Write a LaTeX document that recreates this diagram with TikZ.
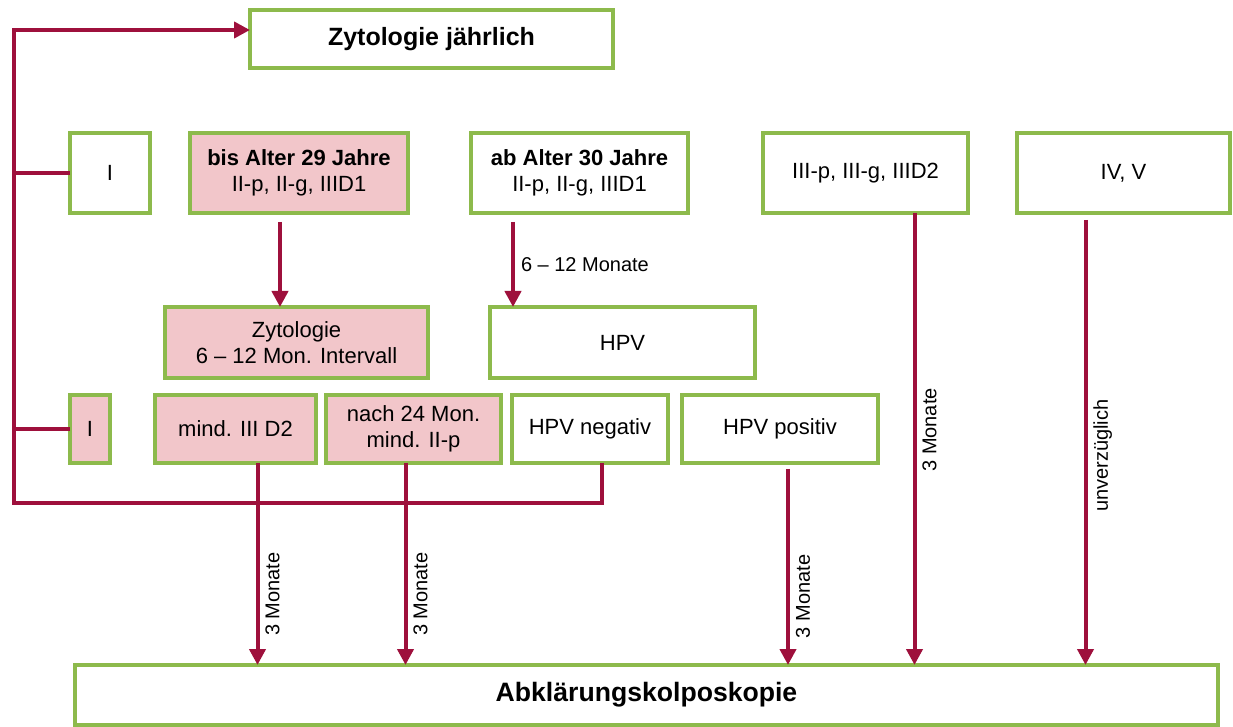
\documentclass[tikz,border=0pt]{standalone}
\usepackage{fontspec}
\setmainfont{Liberation Sans}
\usepackage{xcolor}
\usepackage{tikz}
\usetikzlibrary{positioning}
\usetikzlibrary{arrows.meta}
\definecolor{boxgreen}{RGB}{141,186,76}
\definecolor{boxpink}{RGB}{242,198,202}
\definecolor{linered}{RGB}{158,16,60}
\tikzset{flow/.style = {draw=linered, line width=2pt},
         link/.style = {flow, -{Triangle[length=8pt,width=8pt]}}}

\begin{document}
\begin{tikzpicture}[x=0.5pt,y=-0.5pt,
    main box/.style={rectangle,draw=boxgreen,line width=2.2pt,fill=white,inner sep=0pt,outer sep=0pt,align=center,font=\fontsize{11}{13}\selectfont},
    pink box/.style={main box,fill=boxpink},
    label/.style={font=\fontsize{10}{12}\selectfont,inner sep=3pt}]
            \useasboundingbox (0,0) rectangle (1233,727);

            \node[main box,minimum width=181.5pt,minimum height=29pt,font=\bfseries\fontsize{12.5}{14}\selectfont] (top) at (431.5,39) {\raisebox{-2pt}{Zytologie jährlich}};

            \node[main box,minimum width=40pt,minimum height=40pt] (i1) at (110,173) {I};
            \node[pink box,minimum width=109pt,minimum height=40pt] (bis) at (299,173) {\textbf{bis Alter 29 Jahre}\\II-p, II-g, IIID1};
            \node[main box,minimum width=108.5pt,minimum height=40pt] (ab) at (579.5,173) {\textbf{ab Alter 30 Jahre}\\II-p, II-g, IIID1};
            \node[main box,minimum width=102.5pt,minimum height=40pt] (iii) at (865.5,173) {III-p, III-g, IIID2};
            \node[main box,minimum width=106.5pt,minimum height=40pt] (iv) at (1123.5,173) {IV, V};

            \node[pink box,minimum width=131.5pt,minimum height=35.5pt] (zyt) at (296.5,342.5) {Zytologie\\6 – 12 Mon. Intervall};
            \node[main box,minimum width=132.5pt,minimum height=35.5pt] (hpv) at (622.5,342.5) {HPV};

            \node[pink box,minimum width=20pt,minimum height=34pt] (i2) at (90,429) {I};
            \node[pink box,minimum width=80.5pt,minimum height=34pt] (mind) at (235.5,429) {mind. III D2};
            \node[pink box,minimum width=87.5pt,minimum height=34pt] (nach) at (413.5,429) {nach 24 Mon.\\mind. II-p};
            \node[main box,minimum width=78pt,minimum height=34pt] (neg) at (590,429) {HPV negativ};
            \node[main box,minimum width=98pt,minimum height=34pt] (pos) at (780,429) {HPV positiv};

            \node[main box,minimum width=571.5pt,minimum height=30pt,font=\bfseries\fontsize{13.3}{15}\selectfont] (abk) at (646.5,695) {Abklärungskolposkopie};

            % back to annual cytology
            \coordinate (lt) at (14,30);
            \coordinate (lb) at (14,503);
            \draw[link] ([xshift=6pt]neg.south) |- (lb) -- (lt) -- (lt -| top.west);
            \draw[flow] (i1.west) -- (i1.west -| lt);
            \draw[flow] (i2.west) -- (i2.west -| lt);

            \draw[link] ([xshift=-9.5pt,yshift=-4.5pt]bis.south) -- ([xshift=-9.5pt]bis.south |- zyt.north);
            \draw[link] ([xshift=21pt,yshift=-4.5pt]ab.south west) -- ([xshift=21pt]ab.south west |- hpv.north)
                node[label,midway,right] {6 – 12 Monate};

            % to colposcopy
            \draw[link] ([xshift=11pt]mind.south) -- ([xshift=11pt]mind.south |- abk.north)
                node[label,pos=0.65,rotate=90,anchor=north] {3 Monate};
            \draw[link] ([xshift=-4pt]nach.south) -- ([xshift=-4pt]nach.south |- abk.north)
                node[label,pos=0.65,rotate=90,anchor=north] {3 Monate};
            \draw[link] ([xshift=4pt,yshift=-3pt]pos.south) -- ([xshift=4pt]pos.south |- abk.north)
                node[label,pos=0.65,rotate=90,anchor=north] {3 Monate};
            \draw[link] ([xshift=24.5pt]iii.south) -- ([xshift=24.5pt]iii.south |- abk.north)
                node[label,pos=0.48,rotate=90,anchor=north] {3 Monate};
            \draw[link] ([xshift=-19pt,yshift=-3.5pt]iv.south) -- ([xshift=-19pt]iv.south |- abk.north)
                node[label,pos=0.53,rotate=90,anchor=north] {unverzüglich};
        \end{tikzpicture}
\end{document}
